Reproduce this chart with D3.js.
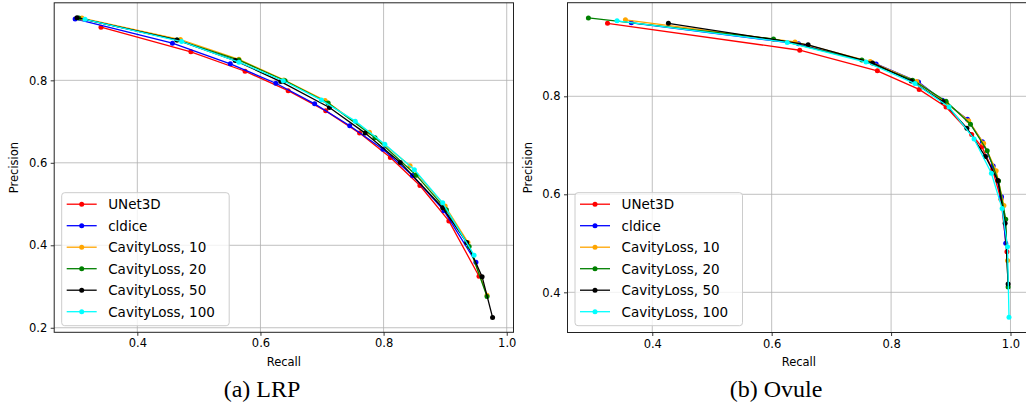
<!DOCTYPE html>
<html lang="en">
<head>
<meta charset="UTF-8">
<title>Precision-Recall curves: LRP and Ovule</title>
<script src="https://d3js.org/d3.v7.min.js"></script>
<style>
  body { margin: 0; background: #fff; }
  svg text { font-family: "DejaVu Sans", sans-serif; fill: #000; }
  .tick text { font-size: 11.5px; }
  .tick line { stroke: #000; stroke-width: 0.8; }
  .grid line { stroke: #b0b0b0; stroke-width: 0.8; }
  .axis-label { font-size: 11.5px; }
  .legend text { font-size: 13.5px; }
  .caption { font-family: "Liberation Serif", "Times New Roman", serif !important; font-size: 24px; }
</style>
</head>
<body>
<script>
// series names + colours (same for both panels)
const seriesNames = ["UNet3D", "cldice", "CavityLoss, 10", "CavityLoss, 20", "CavityLoss, 50", "CavityLoss, 100"];
const seriesColors = ["#ff0000", "#0000ff", "#ffa500", "#008000", "#000000", "#00ffff"];

// LRP: [recall, precision]
const lrpUNet3D = [[0.341,0.929],[0.487,0.869],[0.575,0.822],[0.645,0.775],[0.706,0.726],[0.761,0.672],[0.811,0.613],[0.859,0.545],[0.906,0.459],[0.955,0.325]];
const lrpCldice = [[0.299,0.949],[0.457,0.890],[0.551,0.840],[0.625,0.793],[0.688,0.743],[0.745,0.690],[0.799,0.633],[0.847,0.569],[0.898,0.484],[0.950,0.359]];
const lrpCav10  = [[0.310,0.951],[0.470,0.899],[0.565,0.851],[0.638,0.801],[0.705,0.751],[0.777,0.674],[0.843,0.593],[0.900,0.495],[0.937,0.407],[0.968,0.279]];
const lrpCav20  = [[0.305,0.951],[0.465,0.898],[0.565,0.849],[0.640,0.799],[0.710,0.745],[0.786,0.661],[0.853,0.570],[0.902,0.486],[0.939,0.397],[0.968,0.276]];
const lrpCav50  = [[0.302,0.952],[0.464,0.898],[0.559,0.848],[0.633,0.797],[0.712,0.734],[0.770,0.672],[0.827,0.601],[0.896,0.491],[0.935,0.407],[0.960,0.324],[0.977,0.225]];
const lrpCav100 = [[0.315,0.948],[0.472,0.894],[0.565,0.844],[0.637,0.799],[0.699,0.752],[0.754,0.701],[0.802,0.645],[0.850,0.583],[0.896,0.503],[0.947,0.376]];

// Ovule: [recall, precision]
const ovuUNet3D = [[0.325,0.949],[0.647,0.894],[0.777,0.852],[0.847,0.814],[0.892,0.778],[0.935,0.722],[0.952,0.697],[0.970,0.650],[0.984,0.590],[0.994,0.483]];
const ovuCldice = [[0.365,0.950],[0.645,0.907],[0.775,0.866],[0.846,0.829],[0.886,0.792],[0.928,0.753],[0.953,0.707],[0.971,0.658],[0.985,0.595],[0.992,0.500]];
const ovuCav10  = [[0.355,0.956],[0.639,0.911],[0.765,0.871],[0.843,0.830],[0.893,0.786],[0.930,0.750],[0.955,0.704],[0.976,0.648],[0.989,0.577],[0.995,0.465]];
const ovuCav20  = [[0.293,0.960],[0.603,0.917],[0.751,0.874],[0.836,0.833],[0.892,0.790],[0.933,0.743],[0.961,0.689],[0.980,0.627],[0.992,0.549],[0.996,0.411]];
const ovuCav50  = [[0.427,0.949],[0.661,0.905],[0.769,0.868],[0.834,0.831],[0.887,0.789],[0.927,0.735],[0.958,0.677],[0.979,0.628],[0.991,0.541],[0.996,0.417]];
const ovuCav100 = [[0.341,0.954],[0.626,0.910],[0.758,0.870],[0.840,0.826],[0.897,0.778],[0.939,0.713],[0.968,0.643],[0.986,0.571],[0.995,0.493],[0.9975,0.349]];

const xTicks = [0.4, 0.6, 0.8, 1.0];
const lrpYTicks = [0.2, 0.4, 0.6, 0.8];
const ovuYTicks = [0.4, 0.6, 0.8];

const W = 1026, H = 404;
const svg = d3.select("body").append("svg").attr("width", W).attr("height", H);

const panels = [
  { series: [lrpUNet3D, lrpCldice, lrpCav10, lrpCav20, lrpCav50, lrpCav100],
    xDom: [0.265, 1.011], yDom: [0.189, 0.988], yTicks: lrpYTicks,
    left: 54.2, right: 513.5, top: 2.8, bottom: 332.3, caption: "(a) LRP" },
  { series: [ovuUNet3D, ovuCldice, ovuCav10, ovuCav20, ovuCav50, ovuCav100],
    xDom: [0.258, 1.033], yDom: [0.318, 0.991], yTicks: ovuYTicks,
    left: 567.5, right: 1030.2, top: 2.7, bottom: 332.5, caption: "(b) Ovule" }
];

panels.forEach(p => {
  const x = d3.scaleLinear().domain(p.xDom).range([p.left, p.right]);
  const y = d3.scaleLinear().domain(p.yDom).range([p.bottom, p.top]);
  const g = svg.append("g");

  // grid
  const grid = g.append("g").attr("class", "grid");
  grid.selectAll(".gx").data(xTicks).enter().append("line")
    .attr("x1", d => x(d)).attr("x2", d => x(d)).attr("y1", p.top).attr("y2", p.bottom);
  grid.selectAll(".gy").data(p.yTicks).enter().append("line")
    .attr("x1", p.left).attr("x2", p.right).attr("y1", d => y(d)).attr("y2", d => y(d));

  // axes
  const xa = g.append("g").attr("transform", `translate(0,${p.bottom})`)
    .call(d3.axisBottom(x).tickValues(xTicks).tickFormat(d3.format(".1f")).tickSize(3.5).tickPadding(3.5));
  const ya = g.append("g").attr("transform", `translate(${p.left},0)`)
    .call(d3.axisLeft(y).tickValues(p.yTicks).tickFormat(d3.format(".1f")).tickSize(3.5).tickPadding(3.5));
  xa.select(".domain").remove();
  ya.select(".domain").remove();
  xa.selectAll("text").attr("font-family", null).attr("font-size", null);
  ya.selectAll("text").attr("font-family", null).attr("font-size", null);

  // curves
  const line = d3.line().x(d => x(d[0])).y(d => y(d[1]));
  p.series.forEach((s, i) => {
    g.append("path").datum(s).attr("d", line)
      .attr("fill", "none").attr("stroke", seriesColors[i]).attr("stroke-width", 1.3);
    g.selectAll(null).data(s).enter().append("circle")
      .attr("cx", d => x(d[0])).attr("cy", d => y(d[1])).attr("r", 2.5)
      .attr("fill", seriesColors[i]);
  });

  // frame
  g.append("rect").attr("x", p.left).attr("y", p.top)
    .attr("width", p.right - p.left).attr("height", p.bottom - p.top)
    .attr("fill", "none").attr("stroke", "#222").attr("stroke-width", 1);

  // labels
  const cx = (p.left + p.right) / 2;
  g.append("text").attr("class", "axis-label").attr("x", cx).attr("y", 366)
    .attr("text-anchor", "middle").text("Recall");
  g.append("text").attr("class", "axis-label")
    .attr("transform", `translate(${p.left - 36},${(p.top + p.bottom) / 2}) rotate(-90)`)
    .attr("text-anchor", "middle").text("Precision");

  // legend
  const lx = p.left + 7.5, ly = 192.7, lw = 167.5, lh = 133;
  const lg = g.append("g").attr("class", "legend");
  lg.append("rect").attr("x", lx).attr("y", ly).attr("width", lw).attr("height", lh)
    .attr("rx", 3).attr("fill", "#fff").attr("fill-opacity", 0.8)
    .attr("stroke", "#cccccc").attr("stroke-width", 1);
  seriesNames.forEach((name, i) => {
    const ry = ly + 11.5 + i * 21.5;
    lg.append("line").attr("x1", lx + 5).attr("x2", lx + 35).attr("y1", ry).attr("y2", ry)
      .attr("stroke", seriesColors[i]).attr("stroke-width", 1.3);
    lg.append("circle").attr("cx", lx + 20).attr("cy", ry).attr("r", 2.5).attr("fill", seriesColors[i]);
    lg.append("text").attr("x", lx + 46.5).attr("y", ry + 5).text(name);
  });

  // caption
  g.append("text").attr("class", "caption").attr("x", p.caption === "(a) LRP" ? 262 : 776).attr("y", 397)
    .attr("text-anchor", "middle").text(p.caption);
});
</script>
</body>
</html>
